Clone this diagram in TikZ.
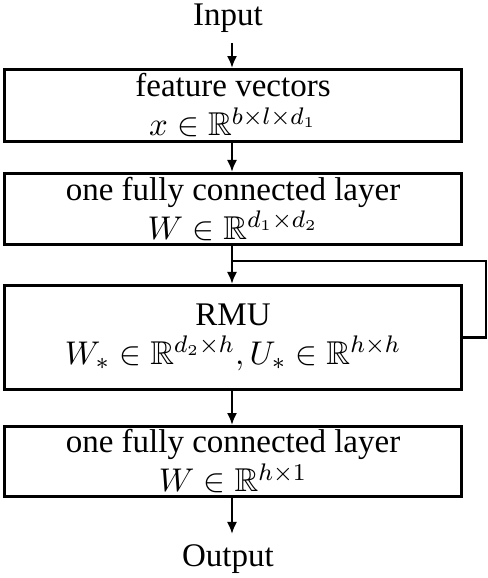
\documentclass[tikz,border=0pt]{standalone}
\usepackage{amsmath,amssymb}
\usepackage{fontspec}
\setmainfont{Liberation Serif}
\usetikzlibrary{positioning, arrows.meta}

\begin{document}
\begin{tikzpicture}[x = 0.3333pt, y = -0.3333pt,
    every node/.style = { align = center, font = \fontsize{11}{13}\selectfont },
    layer/.style = { draw, line width = 1pt, minimum width = 152.3pt, inner sep = 0pt },
    flow/.style = { line width = 0.85pt, -{Latex[length = 4pt, width = 3.4pt]} }]
  \useasboundingbox (0,0) rectangle (488,578);
  \node (input) at (232,18) { Input };
  \node [layer, minimum height = 24pt] (feat) at (233,105.5)
    { feature vectors \\ $x \in \mathbb{R}^{b\times l\times d_1}$ };
  \node [layer, minimum height = 23.7pt] (fc1) at (233,209)
    { one fully connected layer \\ $W \in \mathbb{R}^{d_1\times d_2}$ };
  \node [layer, minimum height = 34.7pt] (rmu) at (233,337.5)
    { RMU \\ $W_* \in \mathbb{R}^{d_2\times h}, U_* \in \mathbb{R}^{h\times h}$ };
  \node [layer, minimum height = 23.3pt] (fc2) at (233,461.5)
    { one fully connected layer \\ $W \in \mathbb{R}^{h\times 1}$ };
  \node (output) at (232,559) { Output };
  \coordinate (split) at (232,261);
  \coordinate (loop) at (486,261);
  \draw [flow] (input) -- (input |- feat.north);
  \draw [flow] (input |- feat.south) -- (input |- fc1.north);
  \draw [flow] (input |- fc1.south) -- (input |- rmu.north);
  \draw [line width = 0.85pt] (split) -- (loop) |- (rmu.east);
  \draw [flow] (input |- rmu.south) -- (input |- fc2.north);
  \draw [flow] (input |- fc2.south) -- (output);
\end{tikzpicture}
\end{document}
